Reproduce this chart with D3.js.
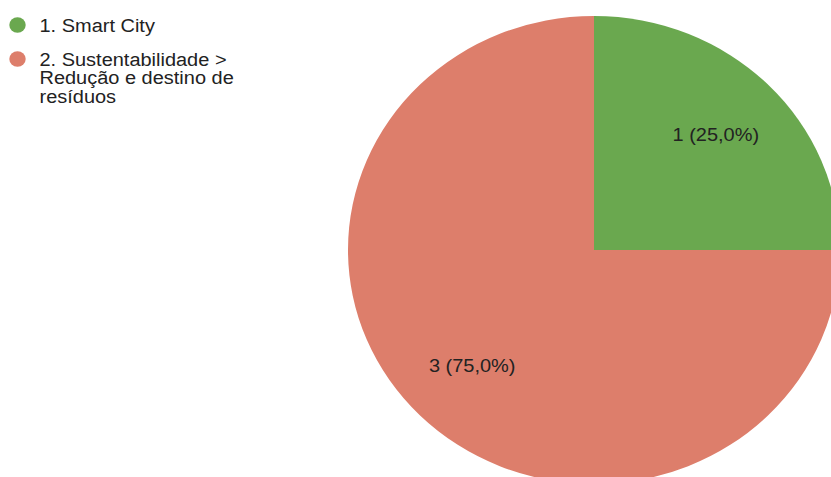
<!DOCTYPE html>
<html>
<head>
<meta charset="utf-8">
<script src="https://cdn.jsdelivr.net/npm/d3@7/dist/d3.min.js"></script>
<style>
  html, body { margin: 0; padding: 0; background: #fff; }
  svg { display: block; }
  text { font-family: "Liberation Sans", Arial, sans-serif; fill: #222; }
</style>
</head>
<body>
<svg id="chart" width="831" height="477"></svg>
<script>
// Response counts per topic
const categories = ["1. Smart City", "2. Sustentabilidade > Redução e destino de resíduos"];
const legendLines = [["1. Smart City"], ["2. Sustentabilidade >", "Redução e destino de", "resíduos"]];
const values = [1, 3];
const colors = ["#6aa84f", "#dd7e6b"];

const W = 831, H = 477;
const sx = 1.0513;           // slight horizontal stretch of the whole drawing
const R = 234;               // pie radius (before stretch)
const cx = 594 / sx, cy = 250;
const fontSize = 19;

const svg = d3.select("#chart");
const root = svg.append("g").attr("transform", `scale(${sx},1)`);

const total = d3.sum(values);
const pie = d3.pie().sort(null).value(d => d).startAngle(0).endAngle(2 * Math.PI);
const arcs = pie(values);
const arc = d3.arc().innerRadius(0).outerRadius(R);
const labelArc = d3.arc().innerRadius(R * 0.7).outerRadius(R * 0.7);

const g = root.append("g").attr("transform", `translate(${cx},${cy})`);

g.selectAll("path.slice")
  .data(arcs)
  .join("path")
  .attr("class", "slice")
  .attr("d", arc)
  .attr("fill", (d, i) => colors[i]);

const fmt = v => (v * 100).toFixed(1).replace(".", ",") + "%";
g.selectAll("text.lbl")
  .data(arcs)
  .join("text")
  .attr("class", "lbl")
  .attr("transform", d => `translate(${labelArc.centroid(d)})`)
  .attr("text-anchor", "middle")
  .attr("dy", "0.35em")
  .attr("font-size", fontSize)
  .text(d => `${d.data} (${fmt(d.data / total)})`);

// Legend
const legendX = 17.5 / sx;
const textX = 39.5 / sx;
const rowTop = [25, 59];
const lineBase = [[32], [66, 84.5, 103]];
const leg = root.append("g");
categories.forEach((c, i) => {
  leg.append("circle")
    .attr("cx", legendX)
    .attr("cy", rowTop[i])
    .attr("r", 7.8)
    .attr("fill", colors[i]);
  const t = leg.append("text").attr("font-size", fontSize);
  legendLines[i].forEach((line, j) => {
    t.append("tspan").attr("x", textX).attr("y", lineBase[i][j]).text(line);
  });
});
</script>
</body>
</html>
